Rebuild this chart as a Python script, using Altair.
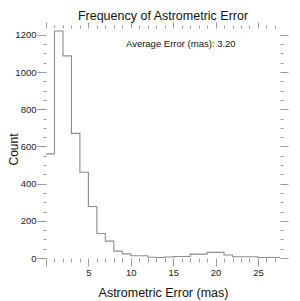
import altair as alt
import pandas as pd

# Histogram: left bin edges (mas) and counts
bin_left = list(range(0, 29))
counts = [560, 1221, 1087, 670, 461, 277, 132, 91, 37, 22, 12, 12, 4, 3, 5,
          8, 8, 21, 21, 30, 30, 16, 7, 7, 7, 2, 2, 2, 2]

x_ticks = list(range(0, 28))
y_ticks = list(range(0, 1201, 50))

note_text = ["Average Error (mas): 3.20"]
note_x = [15.9]
note_y = [1150]

X_DOMAIN = [0, 27.6]
Y_DOMAIN = [0, 1237]

df = pd.DataFrame({"err": bin_left, "count": counts})
note = pd.DataFrame({"x": note_x, "y": note_y, "t": note_text})

FONT = "Liberation Sans"
TICK = "#9a9a9a"

xscale = alt.Scale(domain=X_DOMAIN, nice=False, zero=False)
yscale = alt.Scale(domain=Y_DOMAIN, nice=False)

x_bottom = alt.Axis(
    values=x_ticks, orient="bottom", domain=False, grid=False, format="d",
    labelExpr="datum.value % 5 == 0 && datum.value > 0 ? datum.label : ''",
    tickSize={"condition": {"test": "datum.value % 5 == 0", "value": 8}, "value": 4},
    tickColor=TICK, labelPadding=1, labelFont=FONT, labelFontSize=9.5,
    labelColor="#222", title="Astrometric Error (mas)", titleFont=FONT,
    titleFontSize=12.5, titleFontWeight="normal", titleColor="#111",
    titleY=28, labelFlush=False,
)
y_left = alt.Axis(
    values=y_ticks, orient="left", domain=False, grid=False, format="d",
    labelExpr="datum.value % 200 == 0 ? datum.label : ''",
    tickSize={"condition": {"test": "datum.value % 200 == 0", "value": 9}, "value": 3},
    tickColor=TICK, labelPadding=1, labelFont=FONT, labelFontSize=9.5,
    labelColor="#222", title="Count", titleFont=FONT, titleFontSize=12,
    titleFontWeight="normal", titleColor="#111", titleX=-26, titleY=121,
    labelFlush=False,
)
x_top = alt.Axis(
    values=x_ticks, orient="top", domain=False, grid=False, labels=False,
    tickSize={"condition": {"test": "datum.value % 5 == 0", "value": 6}, "value": 3},
    tickColor=TICK, title=None,
)
y_right = alt.Axis(
    values=y_ticks, orient="right", domain=False, grid=False, labels=False,
    tickSize={"condition": {"test": "datum.value % 200 == 0", "value": 8}, "value": 3},
    tickColor=TICK, title=None,
)

hist = alt.Chart(df).mark_line(
    interpolate="step-after", color="#8c8c8c", strokeWidth=1.1, clip=True
).encode(
    x=alt.X("err:Q", scale=xscale, axis=x_bottom),
    y=alt.Y("count:Q", scale=yscale, axis=y_left),
)

frame = alt.Chart(df).mark_point(opacity=0).encode(
    x=alt.X("err:Q", scale=xscale, axis=x_top),
    y=alt.Y("count:Q", scale=yscale, axis=y_right),
)

label = alt.Chart(note).mark_text(
    font=FONT, fontSize=9.5, color="#111", align="center", baseline="middle"
).encode(
    x=alt.X("x:Q", scale=xscale, axis=None),
    y=alt.Y("y:Q", scale=yscale, axis=None),
    text="t:N",
)

chart = alt.layer(hist, frame, label).resolve_axis(
    x="independent", y="independent"
).properties(
    width=234, height=230,
    title=alt.TitleParams("Frequency of Astrometric Error", font=FONT,
                          fontSize=12.5, fontWeight="normal", color="#111",
                          anchor="middle", offset=-1),
    autosize=alt.AutoSizeParams(type="none"),
    padding={"left": 38, "top": 20, "right": 12, "bottom": 43},
).configure_view(stroke=None)

chart.save("out.html", embed_options={"renderer": "svg", "actions": False})
